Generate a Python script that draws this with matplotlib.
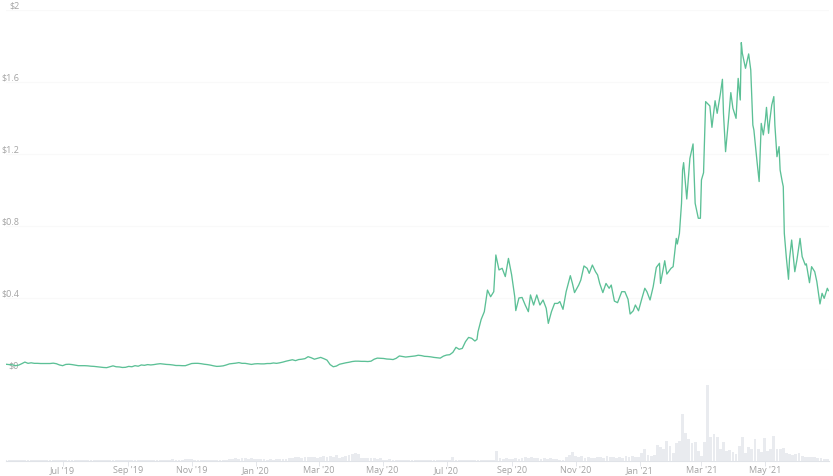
#!/usr/bin/env python
"""Price and volume chart, May 2019 to Jul 2021."""

import matplotlib.pyplot as plt
import numpy as np
import pandas as pd

START = pd.Timestamp("2019-05-08")
WIDTH, HEIGHT = 833, 476

# flat stretch before the run-up, one reading every three days
early_prices = [
    .032, .030, .029, .024, .027, .035, .044, .037, .040, .037,
    .037, .036, .036, .036, .036, .038, .035, .028, .024, .031,
    .032, .030, .027, .024, .024, .024, .023, .021, .020, .018,
    .016, .014, .013, .018, .023, .018, .017, .014, .015, .020,
    .018, .024, .021, .028, .026, .030, .028, .030, .033, .035,
    .033, .031, .030, .028, .025, .025, .024, .024, .030, .036,
    .037, .037, .035, .032, .030, .027, .023, .020, .021, .023,
    .028, .034, .036, .038, .041, .037, .037, .034, .031, .034,
    .035, .034, .034, .036, .036, .039, .037, .040, .044, .049,
    .053, .057, .052, .058, .060, .063, .074, .068, .060, .065,
    .070, .063, .055, .030, .018, .022, .032, .036, .040, .043,
    .047, .049, .049, .048, .048, .047, .049, .060, .066, .065,
    .064, .061, .060, .058, .065, .078, .075, .072, .074, .076,
    .078, .082, .080, .076, .075, .073, .070, .068, .066,
]

# days since START for the rest of the line
late_days = [
    417, 420, 423, 426, 429, 432, 435, 438, 441, 444, 447, 449, 450, 453, 456,
    459, 462, 465, 467, 470, 473, 476, 479, 482, 485, 486, 489, 492, 495, 498,
    500, 503, 506, 509, 512, 515, 517, 520, 523, 526, 528, 531, 534, 538, 540,
    542, 546, 548, 551, 554, 556, 559, 562, 564, 566, 569, 572, 575, 577, 580,
    583, 587, 590, 593, 595, 598, 600, 603, 606, 609, 611, 614, 617, 620, 623,
    624, 628, 630, 634, 636, 639, 640, 642, 644, 645, 646, 649, 652, 655, 657,
    660, 662, 663, 665, 667, 671, 673, 676, 678, 681, 683, 684, 686, 689, 691,
    693, 696, 698, 700, 701, 702, 705, 708, 710, 712, 713, 716, 718, 720, 722,
    724, 725, 727, 728, 730, 732, 733, 735, 737, 738, 740, 741, 742, 744, 746,
    747, 749, 752, 754, 757, 759, 762, 763, 766, 768, 771, 773, 776, 778, 780,
    783, 784,
]
late_prices = [
    .077, .083, .085, .098, .126, .115, .120, .157, .181, .176, .161, .170, .213, .281, .324,
    .444, .407, .435, .639, .556, .565, .519, .620, .530, .407, .330, .400, .403, .361, .324,
    .417, .361, .417, .361, .389, .343, .259, .324, .370, .370, .380, .337, .435, .524, .481,
    .430, .472, .500, .578, .565, .537, .583, .546, .528, .481, .430, .481, .454, .472, .383,
    .374, .435, .435, .393, .311, .329, .361, .329, .393, .454, .435, .389, .463, .570, .593,
    .481, .607, .533, .565, .574, .731, .700, .759, .926, 1.111, 1.152, .950, 1.176, 1.256, .926,
    .843, .843, 1.056, 1.096, 1.491, 1.467, 1.348, 1.496, 1.426, 1.533, 1.615, 1.426, 1.213, 1.404, 1.541,
    1.454, 1.398, 1.620, 1.500, 1.819, 1.759, 1.676, 1.756, 1.667, 1.361, 1.333, 1.157, 1.047, 1.370, 1.306,
    1.393, 1.459, 1.315, 1.380, 1.472, 1.519, 1.361, 1.185, 1.241, 1.111, 1.047, 1.019, .759, .620, .504,
    .620, .722, .546, .611, .731, .630, .583, .590, .485, .574, .546, .491, .367, .426, .398,
    .454, .441,
]

# volume, one reading every three days (arbitrary units, peak about 76)
volume = (
    [.3] * 50
    + [1, 1, 1, 1.5, 1, 1, 1, 1.5, 2, 1.5, 1, 1, 1, 1, 1]
    + [.5, .5, .5, .5, .5, .5]
    + [2, 2, 2.5, 2, 2.5, 3, 2, 2.5, 2, 2, 1.5]
    + [1.5, 1, 1.5, 1, 1.5, 1.5, 2]
    + [2, 3, 3, 3.5, 4, 3, 4, 4, 3.5, 4, 3, 4, 5, 4, 5, 3.5]
    + [6, 3, 4, 5, 6, 7, 8, 7]
    + [3, 3, 2.5, 3, 2.5, 2, 2.5]
    + [1, 1, 1.5, 1, 1, 1, 1]
    + [.4] * 15 + [4] + [.4] * 9
    + [1, 1, 1, 1, 10]
    + [3, 2, 3, 2, 2, 3, 2, 3, 4, 3, 4, 3, 3, 2, 3, 2, 3, 2, 2]
    + [.5, 1, 4, 6, 9, 5, 4, 5]
    + [3, 4, 3, 3, 4, 4, 3, 5, 4, 4, 3, 4, 3, 5, 4, 5]
    + [4, 4, 8, 12, 6, 5, 6, 16, 14, 12, 20, 15, 8, 18, 20, 47, 28, 22, 18, 19]
    + [10, 5, 19, 76, 24, 27, 24, 12, 19, 10, 11, 9, 7, 15, 24, 8, 14, 12, 22, 12]
    + [9, 23, 10, 12, 25, 12, 12, 13, 8, 7, 6, 7, 8, 5, 4, 4, 3.5, 4, 3, 3, 2, 2, 1]
)

price_ticks = [0, .4, .8, 1.2, 1.6, 2]
price_labels = ["$0", "$0.4", "$0.8", "$1.2", "$1.6", "$2"]
month_ticks = [
    "2019-07-01", "2019-09-01", "2019-11-01", "2020-01-01", "2020-03-01", "2020-05-01",
    "2020-07-01", "2020-09-01", "2020-11-01", "2021-01-01", "2021-03-01", "2021-05-01",
]
month_labels = [
    "Jul '19", "Sep '19", "Nov '19", "Jan '20", "Mar '20", "May '20",
    "Jul '20", "Sep '20", "Nov '20", "Jan '21", "Mar '21", "May '21",
]

GREEN = "#5cc096"
TEXT = "#a3a3a3"
BAR = "#e9ebef"


def to_dates(days):
    return START + pd.to_timedelta(np.asarray(days, dtype=float), unit="D")


def px_axes(fig, left, top, right, bottom):
    """Add an axes given by its pixel edges, measured from the top left."""
    ax = fig.add_axes([left / WIDTH, 1 - bottom / HEIGHT, (right - left) / WIDTH, (bottom - top) / HEIGHT])
    ax.patch.set_alpha(0)
    for spine in ax.spines.values():
        spine.set_visible(False)
    return ax


def main() -> None:
    plt.rcParams["font.family"] = ["Open Sans", "DejaVu Sans"]
    fig = plt.figure(figsize=(WIDTH / 100, HEIGHT / 100), dpi=100, facecolor="white")

    x_range = (to_dates([0])[0], to_dates([784.6])[0])

    # volume panel
    ax_vol = px_axes(fig, 6, 380, 829, 460.5)
    vol_days = np.arange(len(volume)) * 3
    ax_vol.bar(to_dates(vol_days), volume, width=2.7, color=BAR, linewidth=0)
    ax_vol.set_xlim(x_range)
    ax_vol.set_ylim(0, 80.5)
    ax_vol.set_yticks([])
    ax_vol.spines["bottom"].set_visible(True)
    ax_vol.spines["bottom"].set_color("#e0e3e8")
    ax_vol.spines["bottom"].set_linewidth(0.8)
    ax_vol.set_xticks(pd.to_datetime(month_ticks))
    ax_vol.set_xticklabels(month_labels)
    ax_vol.tick_params(axis="x", length=3.5, width=0.6, color="#e0e3e8", labelcolor=TEXT, labelsize=6.5, pad=0.5)

    # price panel
    ax = px_axes(fig, 6, 10, 829, 370)
    early_days = np.linspace(0, 414, len(early_prices))
    days = np.concatenate([early_days, late_days])
    prices = np.concatenate([early_prices, late_prices])
    ax.set_xlim(x_range)
    ax.set_ylim(0, 2)
    ax.set_xticks([])
    ax.set_yticks([])
    for tick, label in zip(price_ticks, price_labels):
        ax.axhline(tick, color="#f9f9f9" if tick else "#f0f0f0", linewidth=0.8, zorder=1)
        ax.annotate(label, (0, tick), xycoords=ax.get_yaxis_transform(), xytext=(9.5, 3.2),
                    textcoords="offset points", ha="right", va="center",
                    color=TEXT, fontsize=6.5, zorder=2, annotation_clip=False)
    ax.plot(to_dates(days), prices, color=GREEN, linewidth=0.95, solid_joinstyle="round", zorder=3)

    fig.savefig("out.png", dpi=100)


if __name__ == "__main__":
    main()
